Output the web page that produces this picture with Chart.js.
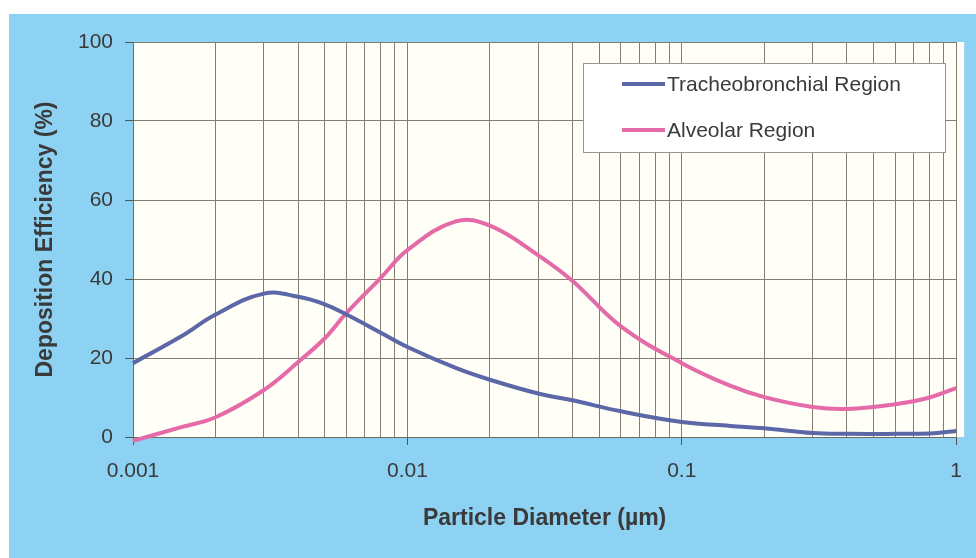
<!DOCTYPE html>
<html>
<head>
<meta charset="utf-8">
<script src="https://cdn.jsdelivr.net/npm/chart.js@4/dist/chart.umd.min.js"></script>
<style>
    html, body { margin: 0; padding: 0; background: #ffffff; }
    #wrap { width: 976px; height: 558px; }
</style>
</head>
<body>
<div id="wrap"><canvas id="lineChart" width="976" height="558"></canvas></div>
<script>
// particle diameters (um) shared by both curves
const diameters = [0.001, 0.0015, 0.002, 0.003, 0.004, 0.005, 0.006, 0.008, 0.01, 0.015, 0.02,
    0.03, 0.04, 0.06, 0.1, 0.15, 0.2, 0.3, 0.4, 0.6, 0.8, 1];
const tracheo = [18.7, 25.5, 31, 36.3, 35.5, 33.6, 31, 26.4, 22.8, 17.5, 14.5,
    11, 9.3, 6.5, 3.8, 2.8, 2.2, 1.0, 0.8, 0.8, 0.9, 1.5];
const alveolar = [-1, 2.5, 5, 11.9, 19, 25, 31.4, 40.3, 47.3, 54.6, 53.5,
    46, 39.5, 28, 18.7, 13, 10.1, 7.6, 7.1, 8.3, 10, 12.4];
const seriesNames = ['Tracheobronchial Region', 'Alveolar Region'];
const yTicks = [0, 20, 40, 60, 80, 100];
const xMajor = [0.001, 0.01, 0.1, 1];

const TEXT = '#3a3a3a';
const GRID = '#857d70';
const FONT = 'Arial, "Liberation Sans", sans-serif';

// every 1..9 x decade gets a grid line, labels only on the powers of ten
const xGrid = [];
xMajor.forEach((d, i) => {
    if (i === xMajor.length - 1) { xGrid.push(d); return; }
    for (let k = 1; k < 10; k++) xGrid.push(+(d * k).toPrecision(3));
});

const toPoints = (ys) => diameters.map((x, i) => ({ x: x, y: ys[i] }));

// page background and plot face
const backdrop = {
    id: 'backdrop',
    beforeDraw(chart) {
        const ctx = chart.ctx;
        const a = chart.chartArea;
        ctx.save();
        ctx.fillStyle = '#ffffff';
        ctx.fillRect(0, 0, chart.width, chart.height);
        ctx.fillStyle = '#8dd2f3';
        ctx.fillRect(9, 14, chart.width - 9, chart.height - 14);
        ctx.fillStyle = '#fffef7';
        ctx.fillRect(a.left, a.top, a.right - a.left + 8, a.bottom - a.top);
        ctx.restore();
    }
};

// legend box inside the plot, top right
const boxLegend = {
    id: 'boxLegend',
    afterDraw(chart) {
        const ctx = chart.ctx;
        const x0 = 583, y0 = 63, w = 362, h = 89;
        ctx.save();
        ctx.fillStyle = '#ffffff';
        ctx.fillRect(x0, y0, w, h);
        ctx.strokeStyle = '#9a948a';
        ctx.lineWidth = 1;
        ctx.strokeRect(x0 + 0.5, y0 + 0.5, w, h);
        ctx.font = '21px ' + FONT;
        ctx.textBaseline = 'middle';
        chart.data.datasets.forEach((ds, i) => {
            const y = y0 + 21 + i * 46;
            ctx.strokeStyle = ds.borderColor;
            ctx.lineWidth = 4;
            ctx.beginPath();
            ctx.moveTo(622, y);
            ctx.lineTo(665, y);
            ctx.stroke();
            ctx.fillStyle = TEXT;
            ctx.fillText(ds.label, 667, y + 1);
        });
        ctx.restore();
    }
};

const ctxLine = document.getElementById('lineChart').getContext('2d');
const lineChart = new Chart(ctxLine, {
    type: 'line',
    data: {
        datasets: [{
            label: seriesNames[0],
            data: toPoints(tracheo),
            borderColor: '#5b67a6',
            borderWidth: 4,
            pointRadius: 0,
            tension: 0.4,
            fill: false,
            clip: false
        }, {
            label: seriesNames[1],
            data: toPoints(alveolar),
            borderColor: '#e46aa8',
            borderWidth: 4,
            pointRadius: 0,
            tension: 0.4,
            fill: false,
            clip: false
        }]
    },
    options: {
        responsive: false,
        animation: false,
        layout: { padding: { top: 42, right: 16, left: 0, bottom: 0 } },
        plugins: {
            legend: { display: false },
            tooltip: { enabled: false }
        },
        scales: {
            x: {
                type: 'logarithmic',
                min: 0.001,
                max: 1,
                afterBuildTicks: (scale) => {
                    scale.ticks = xGrid.map(v => ({ value: v }));
                },
                afterFit: (scale) => { scale.height = 121; },
                ticks: {
                    autoSkip: false,
                    maxRotation: 0,
                    padding: 14,
                    color: TEXT,
                    font: { family: FONT, size: 21 },
                    callback: (v) => xMajor.includes(v) ? String(v) : ''
                },
                grid: {
                    color: GRID,
                    lineWidth: 1,
                    tickLength: 8,
                    tickColor: (c) => (c.tick && xMajor.includes(c.tick.value)) ? '#555' : 'rgba(0,0,0,0)'
                },
                border: { color: '#6e6a64', width: 1 },
                title: {
                    display: true,
                    text: 'Particle Diameter (µm)',
                    color: TEXT,
                    font: { family: FONT, size: 23, weight: 'bold' },
                    padding: { top: 0, bottom: 26 }
                }
            },
            y: {
                min: 0,
                max: 100,
                afterBuildTicks: (scale) => {
                    scale.ticks = yTicks.map(v => ({ value: v }));
                },
                afterFit: (scale) => { scale.width = 133; },
                ticks: {
                    padding: 12,
                    color: TEXT,
                    font: { family: FONT, size: 21 }
                },
                grid: {
                    color: GRID,
                    lineWidth: 1,
                    tickLength: 8,
                    tickColor: '#555'
                },
                border: { color: '#6e6a64', width: 1 },
                title: {
                    display: true,
                    text: 'Deposition Efficiency (%)',
                    color: TEXT,
                    font: { family: FONT, size: 23, weight: 'bold' },
                    padding: { top: 32, bottom: 0 }
                }
            }
        }
    },
    plugins: [backdrop, boxLegend]
});
</script>
</body>
</html>
